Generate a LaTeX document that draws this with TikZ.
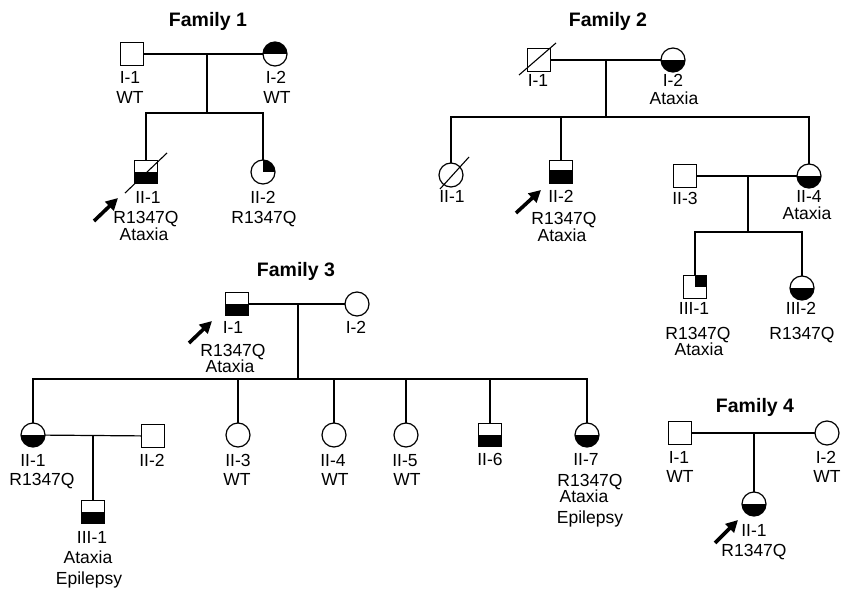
\documentclass[tikz,border=0pt]{standalone}
\usepackage{fontspec}
\setmainfont{Liberation Sans}
\usetikzlibrary{arrows.meta,calc}
\newcommand\lblfont{\fontsize{17.5}{20}\selectfont}
\newcommand\ttlfont{\fontsize{19.5}{22}\selectfont\bfseries}
\tikzset{
 sym/.style={draw, line width=1.2pt, inner sep=0pt, outer sep=0pt},
 sq/.style={sym, rectangle, minimum size=23pt},
 ci/.style={sym, circle, minimum size=24pt},
 fillbot/.style={path picture={\fill[black] (path picture bounding box.west) rectangle (path picture bounding box.south east);}},
 fillbotx/.style={path picture={\fill[black] ([yshift=2pt]path picture bounding box.west) rectangle (path picture bounding box.south east);}},
 filltop/.style={path picture={\fill[black] (path picture bounding box.north west) rectangle (path picture bounding box.east);}},
 filltr/.style={path picture={\fill[black] (path picture bounding box.center) rectangle (path picture bounding box.north east);}},
 lbl/.style={anchor=base, inner sep=0pt, font=\lblfont},
 ttl/.style={anchor=base, inner sep=0pt, font=\ttlfont},
 link/.style={line width=1.2pt},
 slash/.style={line width=1.1pt},
 proband/.style={line width=3.6pt, -{Triangle[length=12pt,width=12pt]}},
}
\begin{document}
\begin{tikzpicture}[x=1pt,y=-1pt]
\useasboundingbox (0,0) rectangle (841,589);

% ---------------- Family 1 ----------------
\node[ttl] (t1) at (208,27) {Family 1};
\node[sq] (f1i1) at (132,54) {};
\node[ci,filltop] (f1i2) at (275,54) {};
\node[sq,fillbot] (f1ii1) at (146,172) {};
\node[ci,filltr] (f1ii2) at (263,172) {};
\coordinate (f1m) at (207,54);
\coordinate (f1s) at (207,113);
\draw[link] (f1i1) -- (f1i2);
\draw[link] (f1m) -- (f1s);
\draw[link] (f1ii1.north) |- (f1s) -| (f1ii2.north);
\coordinate (f1d1) at ($(f1ii1)+(-21,21)$);
\coordinate (f1d2) at ($(f1ii1)+(21,-19)$);
\draw[slash] (f1d1) -- (f1d2);
\coordinate (f1a1) at ($(f1ii1)+(-52,49)$);
\coordinate (f1a2) at ($(f1ii1)+(-28,26)$);
\draw[proband] (f1a1) -- (f1a2);
\node[lbl] (f1l1) at (130,83) {I-1};
\node[lbl] (f1l2) at (130,103) {WT};
\node[lbl] (f1l3) at (276,83) {I-2};
\node[lbl] (f1l4) at (277,103) {WT};
\node[lbl] (f1l5) at (148,203) {II-1};
\node[lbl] (f1l6) at (146,223) {R1347Q};
\node[lbl] (f1l7) at (144,240) {Ataxia};
\node[lbl] (f1l8) at (263,203) {II-2};
\node[lbl] (f1l9) at (264,223) {R1347Q};

% ---------------- Family 2 ----------------
\node[ttl] (t2) at (608,26) {Family 2};
\node[sq] (f2i1) at (539,60) {};
\node[ci,fillbot] (f2i2) at (673,60) {};
\coordinate (f2m) at (606,60);
\coordinate (f2s) at (606,117);
\draw[link] (f2i1) -- (f2i2);
\draw[link] (f2m) -- (f2s);
\coordinate (f2d1) at ($(f2i1)+(-20,15)$);
\coordinate (f2d2) at ($(f2i1)+(17,-17)$);
\draw[slash] (f2d1) -- (f2d2);
\node[ci] (f2ii1) at (451,175) {};
\node[sq,fillbotx] (f2ii2) at (561,172) {};
\node[sq] (f2ii3) at (685,176) {};
\node[ci,fillbot] (f2ii4) at (809,176) {};
\draw[link] (f2ii1.north) |- (f2s) -| (f2ii4.north);
\draw[link] (f2ii2.north) -- (f2ii2.north |- f2s);
\coordinate (f2d3) at ($(f2ii1)+(-11,14)$);
\coordinate (f2d4) at ($(f2ii1)+(18,-18)$);
\draw[slash] (f2d3) -- (f2d4);
\coordinate (f2a1) at ($(f2ii2)+(-45,41)$);
\coordinate (f2a2) at ($(f2ii2)+(-20,18)$);
\draw[proband] (f2a1) -- (f2a2);
\draw[link] (f2ii3) -- (f2ii4);
\coordinate (f2m2) at (748,176);
\coordinate (f2s2) at (748,232);
\draw[link] (f2m2) -- (f2s2);
\node[sq,filltr] (f2iii1) at (695,287) {};
\node[ci,fillbot] (f2iii2) at (802,288) {};
\draw[link] (f2iii1.north) |- (f2s2) -| (f2iii2.north);
\node[lbl] (f2l1) at (538,86) {I-1};
\node[lbl] (f2l2) at (673,86) {I-2};
\node[lbl] (f2l3) at (674,104) {Ataxia};
\node[lbl] (f2l4) at (452,202) {II-1};
\node[lbl] (f2l5) at (561,202) {II-2};
\node[lbl] (f2l6) at (564,224) {R1347Q};
\node[lbl] (f2l7) at (562,241) {Ataxia};
\node[lbl] (f2l8) at (685,204) {II-3};
\node[lbl] (f2l9) at (809,202) {II-4};
\node[lbl] (f2l10) at (807,219) {Ataxia};
\node[lbl] (f2l11) at (694,314) {III-1};
\node[lbl] (f2l12) at (698,339) {R1347Q};
\node[lbl] (f2l13) at (699,355) {Ataxia};
\node[lbl] (f2l14) at (801,314) {III-2};
\node[lbl] (f2l15) at (802,339) {R1347Q};

% ---------------- Family 3 ----------------
\node[ttl] (t3) at (296,276) {Family 3};
\node[sq,fillbot] (f3i1) at (237,304) {};
\node[ci] (f3i2) at (357,304) {};
\coordinate (f3m) at (298,304);
\coordinate (f3s) at (298,379);
\draw[link] (f3i1) -- (f3i2);
\draw[link] (f3m) -- (f3s);
\coordinate (f3a1) at ($(f3i1)+(-48,39)$);
\coordinate (f3a2) at ($(f3i1)+(-25,17)$);
\draw[proband] (f3a1) -- (f3a2);
\node[ci,fillbot] (f3ii1) at (33,435) {};
\node[sq] (f3ii2) at (153,436) {};
\node[ci] (f3ii3) at (238,435) {};
\node[ci] (f3ii4) at (334,435) {};
\node[ci] (f3ii5) at (406,435) {};
\node[sq,fillbot] (f3ii6) at (490,435) {};
\node[ci,fillbot] (f3ii7) at (587,435) {};
\draw[link] (f3ii1.north) |- (f3s) -| (f3ii7.north);
\draw[link] (f3ii3.north) -- (f3ii3.north |- f3s);
\draw[link] (f3ii4.north) -- (f3ii4.north |- f3s);
\draw[link] (f3ii5.north) -- (f3ii5.north |- f3s);
\draw[link] (f3ii6.north) -- (f3ii6.north |- f3s);
\draw[link] (f3ii1) -- (f3ii2);
\coordinate (f3m2) at (93,435);
\node[sq,fillbot] (f3iii1) at (93,512) {};
\draw[link] (f3m2) -- (f3iii1.north);
\node[lbl] (f3l1) at (233,333) {I-1};
\node[lbl] (f3l2) at (233,356) {R1347Q};
\node[lbl] (f3l3) at (230,372) {Ataxia};
\node[lbl] (f3l4) at (356,333) {I-2};
\node[lbl] (f3l5) at (33,466) {II-1};
\node[lbl] (f3l6) at (42,485) {R1347Q};
\node[lbl] (f3l7) at (152,466) {II-2};
\node[lbl] (f3l8) at (238,466) {II-3};
\node[lbl] (f3l9) at (237,485) {WT};
\node[lbl] (f3l10) at (333,466) {II-4};
\node[lbl] (f3l11) at (335,485) {WT};
\node[lbl] (f3l12) at (405,466) {II-5};
\node[lbl] (f3l13) at (407,485) {WT};
\node[lbl] (f3l14) at (490,465) {II-6};
\node[lbl] (f3l15) at (586,465) {II-7};
\node[lbl] (f3l16) at (590,486) {R1347Q};
\node[lbl] (f3l17) at (584,502) {Ataxia};
\node[lbl] (f3l18) at (590,523) {Epilepsy};
\node[lbl] (f3l19) at (92,543) {III-1};
\node[lbl] (f3l20) at (88,563) {Ataxia};
\node[lbl] (f3l21) at (89,584) {Epilepsy};

% ---------------- Family 4 ----------------
\node[ttl] (t4) at (755,412) {Family 4};
\node[sq] (f4i1) at (680,433) {};
\node[ci] (f4i2) at (827,433) {};
\coordinate (f4m) at (754,433);
\node[ci,fillbot] (f4ii1) at (754,504) {};
\draw[link] (f4i1) -- (f4i2);
\draw[link] (f4m) -- (f4ii1.north);
\coordinate (f4a1) at ($(f4ii1)+(-39,39)$);
\coordinate (f4a2) at ($(f4ii1)+(-16,16)$);
\draw[proband] (f4a1) -- (f4a2);
\node[lbl] (f4l1) at (679,463) {I-1};
\node[lbl] (f4l2) at (680,482) {WT};
\node[lbl] (f4l3) at (826,463) {I-2};
\node[lbl] (f4l4) at (827,482) {WT};
\node[lbl] (f4l5) at (754,536) {II-1};
\node[lbl] (f4l6) at (754,556) {R1347Q};
\end{tikzpicture}
\end{document}
